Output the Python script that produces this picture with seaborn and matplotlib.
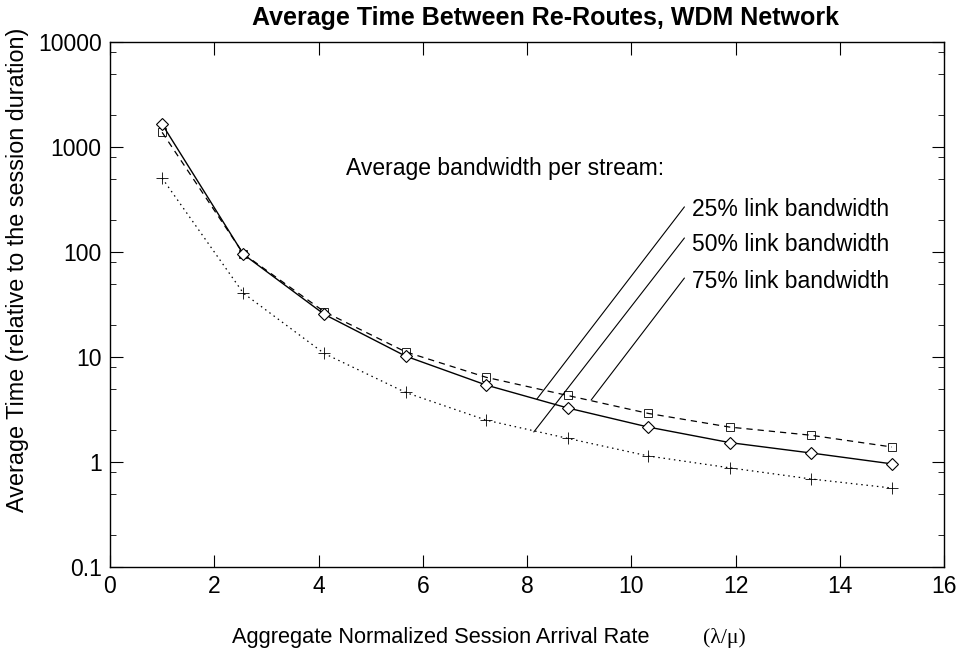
import numpy as np
import pandas as pd
import matplotlib
matplotlib.use("Agg")
import matplotlib.pyplot as plt
import seaborn as sns
from matplotlib.ticker import LogLocator, FixedLocator, NullFormatter

sns.set_style("ticks")
plt.rcParams['font.family'] = ['Liberation Sans', 'DejaVu Sans']
plt.rcParams['text.color'] = 'black'
plt.rcParams['axes.labelcolor'] = 'black'
plt.rcParams['xtick.color'] = 'black'
plt.rcParams['ytick.color'] = 'black'

rate = [1.0, 2.56, 4.11, 5.67, 7.22, 8.78, 10.33, 11.89, 13.44, 15.0]
solid_vals = [1650, 95, 25.5, 10.2, 5.4, 3.27, 2.15, 1.53, 1.22, 0.96]
dashed_vals = [1380, 96, 27, 11.2, 6.4, 4.3, 2.9, 2.15, 1.8, 1.39]
dotted_vals = [505, 40.5, 10.8, 4.6, 2.5, 1.68, 1.14, 0.88, 0.69, 0.565]

xticks = [0, 2, 4, 6, 8, 10, 12, 14, 16]
yticks = [0.1, 1, 10, 100, 1000, 10000]
ytick_labels = ["0.1", "1", "10", "100", "1000", "10000"]

fig = plt.figure(figsize=(9.64, 6.55), dpi=100)
ax = fig.add_axes([110/964, 1-567/655, (944-110)/964, (567-42)/655])

df = pd.DataFrame({"x": rate, "solid": solid_vals, "dashed": dashed_vals, "dotted": dotted_vals})

sns.lineplot(data=df, x="x", y="dashed", ax=ax, color="black", linewidth=0.9,
             linestyle=(0, (5, 4)), marker="s", markersize=6, markerfacecolor="none",
             markeredgecolor="black", markeredgewidth=0.6)
sns.lineplot(data=df, x="x", y="dotted", ax=ax, color="black", linewidth=0.9,
             linestyle=(0, (1.2, 3)), marker="+", markersize=8,
             markeredgecolor="black", markeredgewidth=0.6)
sns.lineplot(data=df, x="x", y="solid", ax=ax, color="black", linewidth=1.0,
             linestyle="-", marker="D", markersize=6.5, markerfacecolor="white",
             markeredgecolor="black", markeredgewidth=0.8)

ax.set_yscale("log")
ax.set_xlim(0, 16)
ax.set_ylim(0.1, 10000)
ax.set_xticks(xticks)
ax.set_xticklabels([str(t) for t in xticks])
ax.yaxis.set_major_locator(FixedLocator(yticks))
ax.set_yticklabels(ytick_labels)
ax.yaxis.set_minor_locator(LogLocator(base=10, subs=(2, 5, 8)))
ax.yaxis.set_minor_formatter(NullFormatter())

for s in ax.spines.values():
    s.set_visible(True)
    s.set_linewidth(1.0)
    s.set_color("black")

ax.tick_params(axis="both", which="major", direction="in", length=9, width=0.8,
               top=True, right=True, labelsize=16.5, pad=6, colors="black")
ax.tick_params(axis="y", which="minor", direction="in", length=4, width=0.6,
               left=True, right=True, colors="black")
ax.tick_params(axis="x", which="minor", bottom=False, top=False)

ax.set_xlabel("")
ax.set_ylabel("")
fig.text(18/964, 1 - 270/655, "Average Time (relative to the session duration)",
         fontsize=16.8, rotation=90, ha="center", va="center", color="black")
fig.text(545/964, 1 - 18/655, "Average Time Between Re-Routes, WDM Network",
         fontsize=18, fontweight="bold", ha="center", va="center", color="black")

fig.text(232/964, 1 - 638/655, "Aggregate Normalized Session Arrival Rate", fontsize=15.7,
         ha="left", va="center", color="black")
fig.text(703/964, 1 - 638/655, "(\u03bb/\u03bc)", fontsize=15.7, ha="left", va="center",
         family=["Liberation Serif", "DejaVu Serif"], color="black")

ax.text(4.52, 620, "Average bandwidth per stream:", fontsize=16.5, ha="left", va="center", color="black")
ax.text(11.17, 255, "25% link bandwidth", fontsize=16.5, ha="left", va="center", color="black")
ax.text(11.17, 118, "50% link bandwidth", fontsize=16.5, ha="left", va="center", color="black")
ax.text(11.17, 52.5, "75% link bandwidth", fontsize=16.5, ha="left", va="center", color="black")

ax.plot([11.02, 8.19], [269, 3.98], color="black", linewidth=0.8)
ax.plot([11.02, 8.13], [136, 1.93], color="black", linewidth=0.8)
ax.plot([11.02, 9.23], [56.5, 3.89], color="black", linewidth=0.8)

fig.savefig("out.png", dpi=100)
